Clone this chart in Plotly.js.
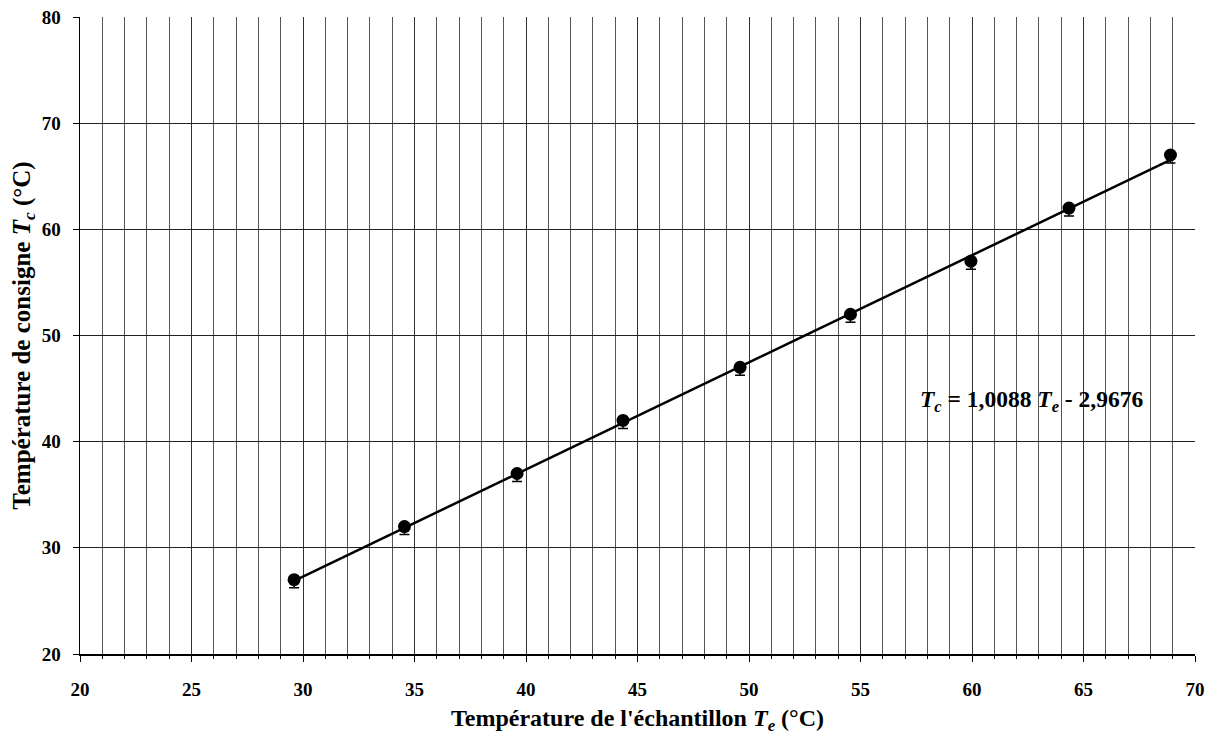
<!DOCTYPE html>
<html>
<head>
<meta charset="utf-8">
<script src="https://cdn.plot.ly/plotly-3.0.1.min.js"></script>
<style>html,body{margin:0;padding:0;background:#fff;}#chart{width:1218px;height:740px;}</style>
</head>
<body>
<div id="chart"></div>
<script>
// Data
const sampleTemp = [29.6, 34.55, 39.6, 44.35, 49.6, 54.55, 59.95, 64.35, 68.9];
const setpointTemp = [27, 32, 37, 42, 47, 52, 57, 62, 67];
const errorPlus = [0, 0, 0, 0, 0, 0, 0, 0, 0];
const errorMinus = [0.75, 0.75, 0.75, 0.75, 0.75, 0.75, 0.75, 0.75, 0.75];
const fitSlope = 1.0088;
const fitIntercept = -2.9676;
const equationText = "<i>T<sub>c</sub></i> = 1,0088 <i>T<sub>e</sub></i> - 2,9676";
const xTitle = "Température de l'échantillon <i>T<sub>e</sub></i> (°C)";
const yTitle = "Température de consigne <i>T<sub>c</sub></i> (°C)";

const fitX = [Math.min(...sampleTemp), Math.max(...sampleTemp)];
const fitY = fitX.map(x => fitSlope * x + fitIntercept);

const fam = "Liberation Serif, Times New Roman, serif";

const traces = [
  {
    x: fitX, y: fitY, mode: "lines", type: "scatter",
    line: {color: "#000", width: 2.5}, hoverinfo: "skip", showlegend: false
  },
  {
    x: sampleTemp, y: setpointTemp, mode: "markers", type: "scatter",
    marker: {color: "#000", size: 13, symbol: "circle"},
    error_y: {type: "data", symmetric: false, array: errorPlus, arrayminus: errorMinus, visible: true, color: "#000", thickness: 1.5, width: 5},
    showlegend: false
  }
];

const layout = {
  width: 1218, height: 740,
  margin: {l: 80, r: 23, t: 17, b: 86},
  paper_bgcolor: "#fff", plot_bgcolor: "#fff",
  font: {family: fam, color: "#000"},
  showlegend: false,
  xaxis: {
    range: [20, 70], dtick: 5, tick0: 20,
    showline: true, linecolor: "#000", linewidth: 1.5,
    ticks: "outside", ticklen: 6, tickcolor: "#000", tickwidth: 1,
    ticklabelstandoff: 12,
    showgrid: true, gridcolor: "#333", gridwidth: 1,
    minor: {dtick: 1, showgrid: true, gridcolor: "#555", gridwidth: 1, ticks: "outside", ticklen: 3, tickcolor: "#000"},
    zeroline: false,
    tickfont: {family: fam, size: 19, color: "#000", weight: "bold"},
    title: {text: "<b>" + xTitle + "</b>", font: {family: fam, size: 24, color: "#000"}, standoff: 10}
  },
  yaxis: {
    range: [20, 80], dtick: 10, tick0: 20,
    showline: true, linecolor: "#000", linewidth: 1.5,
    ticks: "outside", ticklen: 6, tickcolor: "#000",
    ticklabelstandoff: 8,
    showgrid: true, gridcolor: "#222", gridwidth: 1,
    zeroline: false,
    tickfont: {family: fam, size: 19, color: "#000", weight: "bold"},
    title: {text: "<b>" + yTitle + "</b>", font: {family: fam, size: 25, color: "#000"}, standoff: 4}
  },
  annotations: [
    {
      x: 57.6, y: 43.8, xref: "x", yref: "y", xanchor: "left", yanchor: "middle",
      text: "<b>" + equationText + "</b>", showarrow: false,
      font: {family: fam, size: 23.5, color: "#000"}
    }
  ]
};

Plotly.newPlot("chart", traces, layout, {displayModeBar: false, staticPlot: true});
</script>
</body>
</html>
